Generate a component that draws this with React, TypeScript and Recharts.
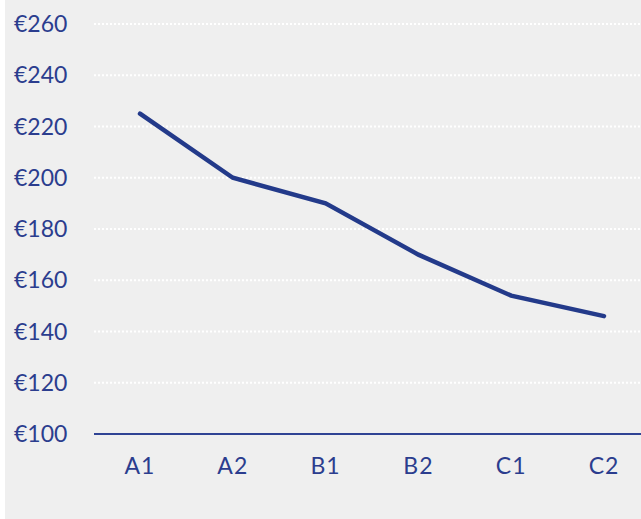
import React from "react";
import { LineChart, Line, XAxis, YAxis, CartesianGrid } from "recharts";

const categories = ["A1", "A2", "B1", "B2", "C1", "C2"];
const prices = [225, 200, 190, 170, 154, 146];
const yTicks = [100, 120, 140, 160, 180, 200, 220, 240, 260];

const data = categories.map((c, i) => ({ level: c, price: prices[i] }));

const textColor = "#2b3d8e";
const font = "Lato, 'DejaVu Sans', sans-serif";

const YTick = (props: any) => {
  const { x, y, payload } = props;
  return (
    <text x={x - 80} y={y} dy={8} textAnchor="start" fill={textColor} fontSize={23} fontFamily={font}>
      {"€" + payload.value}
    </text>
  );
};

const XTick = (props: any) => {
  const { x, y, payload } = props;
  return (
    <text x={x} y={y} dy={40} textAnchor="middle" fill={textColor} fontSize={23} fontFamily={font} letterSpacing={1}>
      {payload.value}
    </text>
  );
};

const App = () => {
  return (
    <div
      style={{
        position: "absolute",
        left: 0,
        top: 0,
        width: 641,
        height: 519,
        overflow: "hidden",
        background: "#ffffff",
      }}
    >
      <div
        style={{
          position: "absolute",
          left: 5,
          top: 0,
          width: 636,
          height: 519,
          background: "#efefef",
        }}
      />
      <div style={{ position: "absolute", left: 0, top: 0 }}>
        <LineChart
          width={650}
          height={519}
          data={data}
          margin={{ top: 24, right: 0, left: 0, bottom: 25 }}
        >
          <CartesianGrid
            vertical={false}
            stroke="#ffffff"
            strokeWidth={2}
            strokeDasharray="2 2"
          />
          <XAxis
            dataKey="level"
            height={60}
            padding={{ left: 46, right: 46 }}
            tickSize={0}
            tickMargin={0}
            tick={<XTick />}
            axisLine={{ stroke: "#2f4394", strokeWidth: 2 }}
            tickLine={false}
          />
          <YAxis
            width={94}
            domain={[100, 260]}
            ticks={yTicks}
            tickSize={0}
            tickMargin={0}
            tick={<YTick />}
            axisLine={false}
            tickLine={false}
          />
          <Line
            type="linear"
            dataKey="price"
            stroke="#233a8a"
            strokeWidth={4.5}
            strokeLinecap="round"
            dot={false}
            isAnimationActive={false}
          />
        </LineChart>
      </div>
    </div>
  );
};

export default App;
